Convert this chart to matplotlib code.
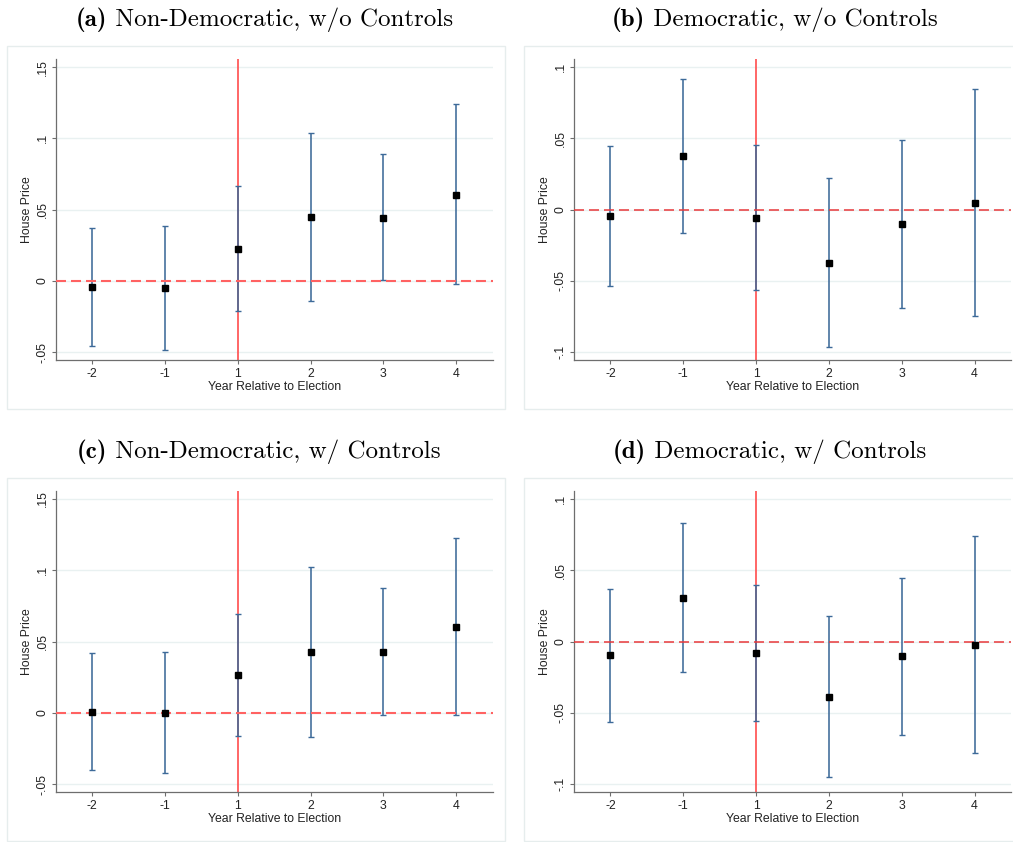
import matplotlib
matplotlib.use("Agg")
import matplotlib.pyplot as plt
from matplotlib.patches import Rectangle
from matplotlib.ticker import FixedLocator, FuncFormatter

# Event-study estimates: year relative to election
years = ["-2", "-1", "1", "2", "3", "4"]
election_year = "1"

# (a) Non-Democratic, w/o Controls
coef_a = [-0.0044, -0.0053, 0.0224, 0.0448, 0.0441, 0.0602]
lo_a = [-0.0457, -0.0485, -0.0210, -0.0142, 0.0003, -0.0025]
hi_a = [0.0374, 0.0385, 0.0665, 0.1039, 0.0887, 0.1240]

# (b) Democratic, w/o Controls
coef_b = [-0.0047, 0.0373, -0.0056, -0.0374, -0.0101, 0.0049]
lo_b = [-0.0532, -0.0161, -0.0560, -0.0964, -0.0689, -0.0745]
hi_b = [0.0443, 0.0915, 0.0452, 0.0224, 0.0490, 0.0845]

# (c) Non-Democratic, w/ Controls
coef_c = [0.0007, 0.0000, 0.0264, 0.0425, 0.0428, 0.0603]
lo_c = [-0.0404, -0.0425, -0.0164, -0.0168, -0.0014, -0.0019]
hi_c = [0.0421, 0.0428, 0.0696, 0.1021, 0.0872, 0.1227]

# (d) Democratic, w/ Controls
coef_d = [-0.0098, 0.0306, -0.0084, -0.0388, -0.0105, -0.0023]
lo_d = [-0.0565, -0.0217, -0.0558, -0.0949, -0.0654, -0.0785]
hi_d = [0.0369, 0.0832, 0.0393, 0.0178, 0.0446, 0.0738]

tags = ["(a)", "(b)", "(c)", "(d)"]
captions = ["Non-Democratic, w/o Controls", "Democratic, w/o Controls",
            "Non-Democratic, w/ Controls", "Democratic, w/ Controls"]
yticks_nondem = [-0.05, 0, 0.05, 0.1, 0.15]
yticks_dem = [-0.1, -0.05, 0, 0.05, 0.1]

x_label = "Year Relative to Election"
y_label = "House Price"

W, H = 1013, 842
fig = plt.figure(figsize=(W / 100, H / 100), dpi=100)
fig.patch.set_facecolor("white")

SANS = ["Liberation Sans", "DejaVu Sans"]
BAR = "#3d6a99"
GRID = "#e9f1f1"
AXC = "#6e6e6e"
TXT = "#222222"
FS = 8.8
TITLE_FS = 18


def fx(px):
    return px / W


def fy(py):
    return 1 - py / H


def stata_fmt(v, pos=None):
    if abs(v) < 1e-12:
        return "0"
    return ("%g" % v).replace("0.", ".")


panels = [
    dict(coef=coef_a, lo=lo_a, hi=hi_a, ticks=yticks_nondem, ylim=(-0.0555, 0.1555),
         left=55.7, top=59.3, bottom=360.0, box=(7, 46, 505, 409), title=(76, 26),
         zc="#ff6262", zlw=1.5),
    dict(coef=coef_b, lo=lo_b, hi=hi_b, ticks=yticks_dem, ylim=(-0.1054, 0.1054),
         left=574.0, top=59.3, bottom=360.0, box=(524, 46, 1022, 409), title=(612, 26),
         zc="#e8393b", zlw=1.1),
    dict(coef=coef_c, lo=lo_c, hi=hi_c, ticks=yticks_nondem, ylim=(-0.0556, 0.1556),
         left=55.7, top=491.0, bottom=792.0, box=(7, 478, 505, 841), title=(77, 458),
         zc="#ff6262", zlw=1.5),
    dict(coef=coef_d, lo=lo_d, hi=hi_d, ticks=yticks_dem, ylim=(-0.1056, 0.1056),
         left=574.0, top=491.0, bottom=792.0, box=(524, 478, 1022, 841), title=(613, 458),
         zc="#e8393b", zlw=1.1),
]

axis_w = 437.0
xpos = list(range(len(years)))
ev = years.index(election_year)

renderer = fig.canvas.get_renderer()

for i, p in enumerate(panels):
    # light frame around each sub-graph
    x0, y0, x1, y1 = p["box"]
    fig.patches.append(Rectangle((fx(x0), fy(y1)), fx(x1 - x0), (y1 - y0) / H,
                                 transform=fig.transFigure, fill=False,
                                 edgecolor="#e6eded", linewidth=1.0, zorder=0))

    axis_h = p["bottom"] - p["top"]
    ax = fig.add_axes([fx(p["left"]), fy(p["bottom"]), fx(axis_w), axis_h / H])
    ax.set_xlim(-0.5, len(years) - 0.5)
    ax.set_ylim(*p["ylim"])

    ax.yaxis.set_major_locator(FixedLocator(p["ticks"]))
    ax.yaxis.set_major_formatter(FuncFormatter(stata_fmt))
    ax.set_xticks(xpos)
    ax.set_xticklabels(years)

    ax.grid(axis="y", color=GRID, linewidth=1.0, zorder=0)
    ax.set_axisbelow(True)
    for s in ("top", "right"):
        ax.spines[s].set_visible(False)
    for s in ("left", "bottom"):
        ax.spines[s].set_color(AXC)
        ax.spines[s].set_linewidth(0.9)

    ax.tick_params(axis="both", direction="out", length=3.2, width=0.8, color=AXC,
                   labelsize=FS, labelcolor=TXT)
    ax.tick_params(axis="x", pad=2.5)
    ax.tick_params(axis="y", pad=2.0, labelrotation=90)
    for lab in ax.get_yticklabels():
        lab.set_va("center")
        lab.set_family(SANS)
    for lab in ax.get_xticklabels():
        lab.set_family(SANS)

    # election year marker and zero reference line
    ax.axvline(ev, color="#ff5a5a", linewidth=1.3, zorder=1)

    yerr = [[c - l for c, l in zip(p["coef"], p["lo"])],
            [h - c for c, h in zip(p["coef"], p["hi"])]]
    ax.errorbar(xpos, p["coef"], yerr=yerr, fmt="none", ecolor=BAR,
                elinewidth=1.15, capsize=2.5, capthick=1.0, zorder=2)
    ax.axhline(0, color=p["zc"], linewidth=p["zlw"],
               dashes=(10 / 1.389 / p["zlw"], 5 / 1.389 / p["zlw"]), zorder=3)
    ax.plot(xpos, p["coef"], linestyle="none", marker="s", markersize=5,
            color="black", zorder=4)

    ax.set_xlabel(x_label, fontsize=FS, family=SANS, color=TXT)
    ax.set_ylabel(y_label, fontsize=FS, family=SANS, color=TXT)
    ax.xaxis.set_label_coords(0.5, -27.0 / axis_h)
    ax.xaxis.label.set_va("center")
    ax.yaxis.set_label_coords(-28.7 / axis_w, 0.5)
    ax.yaxis.label.set_va("center")

    # sub-figure caption: bold tag followed by regular text
    tx, ty = p["title"]
    t1 = fig.text(fx(tx), fy(ty), tags[i], family="cmb10", fontsize=TITLE_FS,
                  ha="left", va="baseline")
    bb = t1.get_window_extent(renderer=renderer)
    fig.text(fx(tx) + bb.width / W, fy(ty), " " + captions[i], family="cmr10",
             fontsize=TITLE_FS, ha="left", va="baseline")

fig.savefig("out.png", dpi=100, facecolor="white")
